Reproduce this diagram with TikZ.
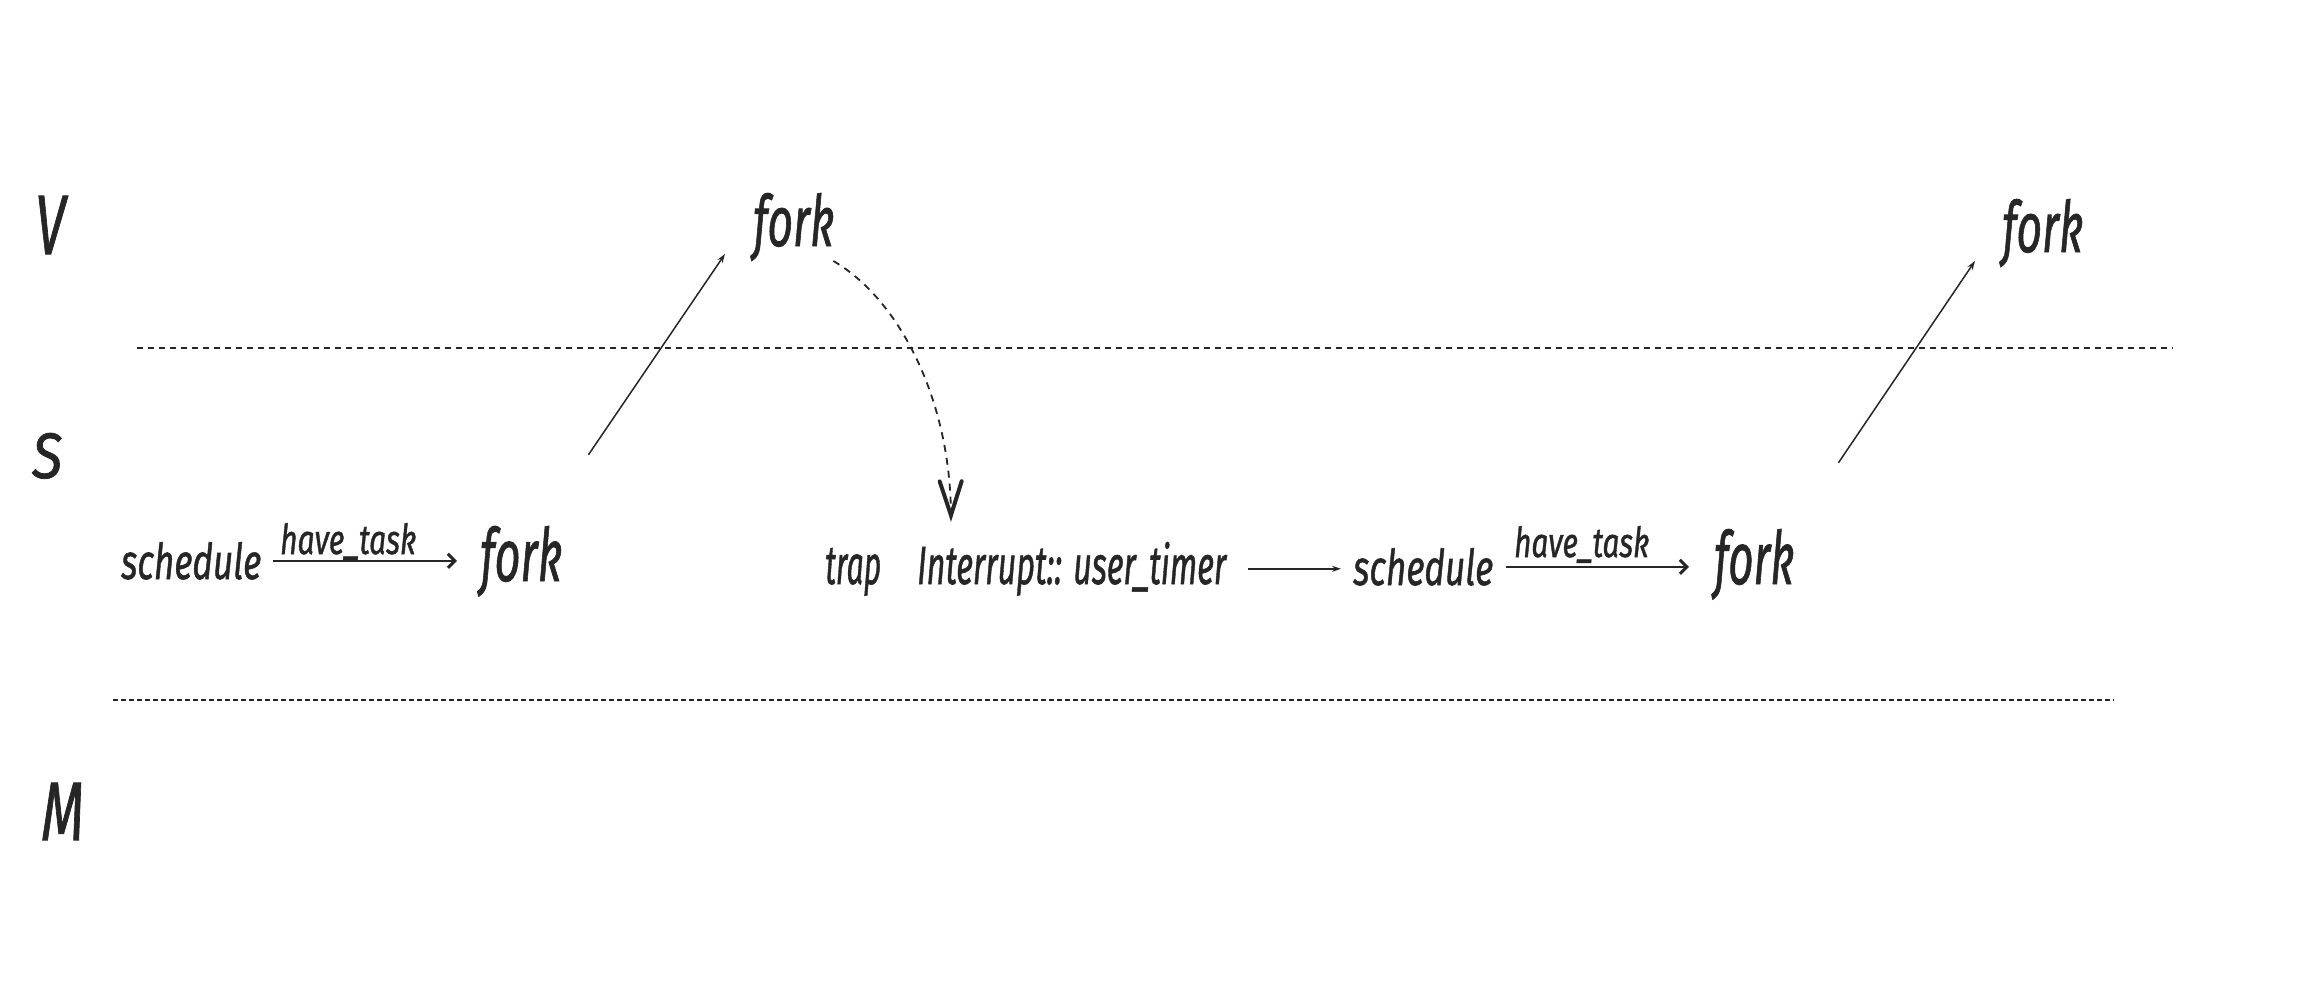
\documentclass[tikz,border=0pt]{standalone}
\usepackage{fontspec}
\setmainfont{Fira Sans}[ItalicFeatures={FakeBold=1.2}]
\usetikzlibrary{arrows.meta}
\definecolor{ink}{HTML}{262626}
\newcommand{\hw}[3]{\resizebox{#1pt}{#2pt}{\itshape #3}}
\begin{document}
\begin{tikzpicture}[x=1pt,y=-1pt,
  lbl/.style={inner sep=0pt, anchor=base west, text=ink},
  divider/.style={draw=ink, line width=2pt, dash pattern=on 6pt off 5pt},
  divider2/.style={draw=ink, line width=2.5pt, dash pattern=on 5pt off 3pt},
  flowarrow/.style={draw=ink, line width=2.5pt, -{Straight Barb[length=7pt,width=14pt,line width=3pt]}},
  thinarrow/.style={draw=ink, line width=1.5pt, -{Stealth[length=9pt,width=6pt]}},
  dasharrow/.style={draw=ink, line width=1.8pt, dash pattern=on 7pt off 6pt, -{Straight Barb[length=34pt,width=22pt,line width=4pt,line cap=round]}}]
\useasboundingbox[fill=white] (0,0) rectangle (2311,994);

% lane labels
\node[lbl] (V) at (35,254) {\hw{30}{58}{V}};
\node[lbl] (S) at (32,478) {\hw{30}{45}{S}};
\node[lbl] (M) at (41,840) {\hw{43}{57}{M}};

% dividers
\coordinate (d1a) at (137,348);
\coordinate (d1b) at (2173,348);
\coordinate (d2a) at (113,700);
\coordinate (d2b) at (2114,700);
\draw[divider] (d1a) -- (d1b);
\draw[divider2] (d2a) -- (d2b);

% upper forks
\node[lbl] (fU1) at (753,246) {\hw{81}{53}{fork}};
\node[lbl] (fU2) at (2002,252) {\hw{81}{53}{fork}};

% S row
\node[lbl] (sch1) at (121,579) {\hw{140}{37}{schedule}};
\node[lbl] (ht1) at (280,554) {\hw{136}{31}{have\_task}};
\node[lbl] (f1) at (480,581) {\hw{82}{55}{fork}};
\node[lbl] (trap) at (825,584) {\hw{56}{36}{trap}};
\node[lbl] (intr) at (917,584) {\hw{309}{42}{Interrupt:: user\_timer}};
\node[lbl] (sch2) at (1353,585) {\hw{140}{37}{schedule}};
\node[lbl] (ht2) at (1514,557) {\hw{135}{31}{have\_task}};
\node[lbl] (f2) at (1714,584) {\hw{80}{55}{fork}};

% connectors
\draw[flowarrow] ([xshift=12pt]sch1.east) -- ([xshift=-23pt]f1.west |- sch1.east);
\draw[thinarrow] ([xshift=22pt]intr.east) -- ([xshift=-12pt]sch2.west |- intr.east);
\draw[flowarrow] ([xshift=13pt]sch2.east) -- ([xshift=-25pt]f2.west |- sch2.east);
\draw[thinarrow] ([shift={(26,-71)}]f1.north east) -- ([shift={(-28,8)}]fU1.base west);
\draw[thinarrow] ([shift={(44,-66)}]f2.north east) -- ([shift={(-27,9)}]fU2.base west);
\draw[dasharrow] ([shift={(-1,15)}]fU1.base east) .. controls (900,300) and (950,400) .. ([shift={(34,-20)}]intr.north west);
\end{tikzpicture}
\end{document}
